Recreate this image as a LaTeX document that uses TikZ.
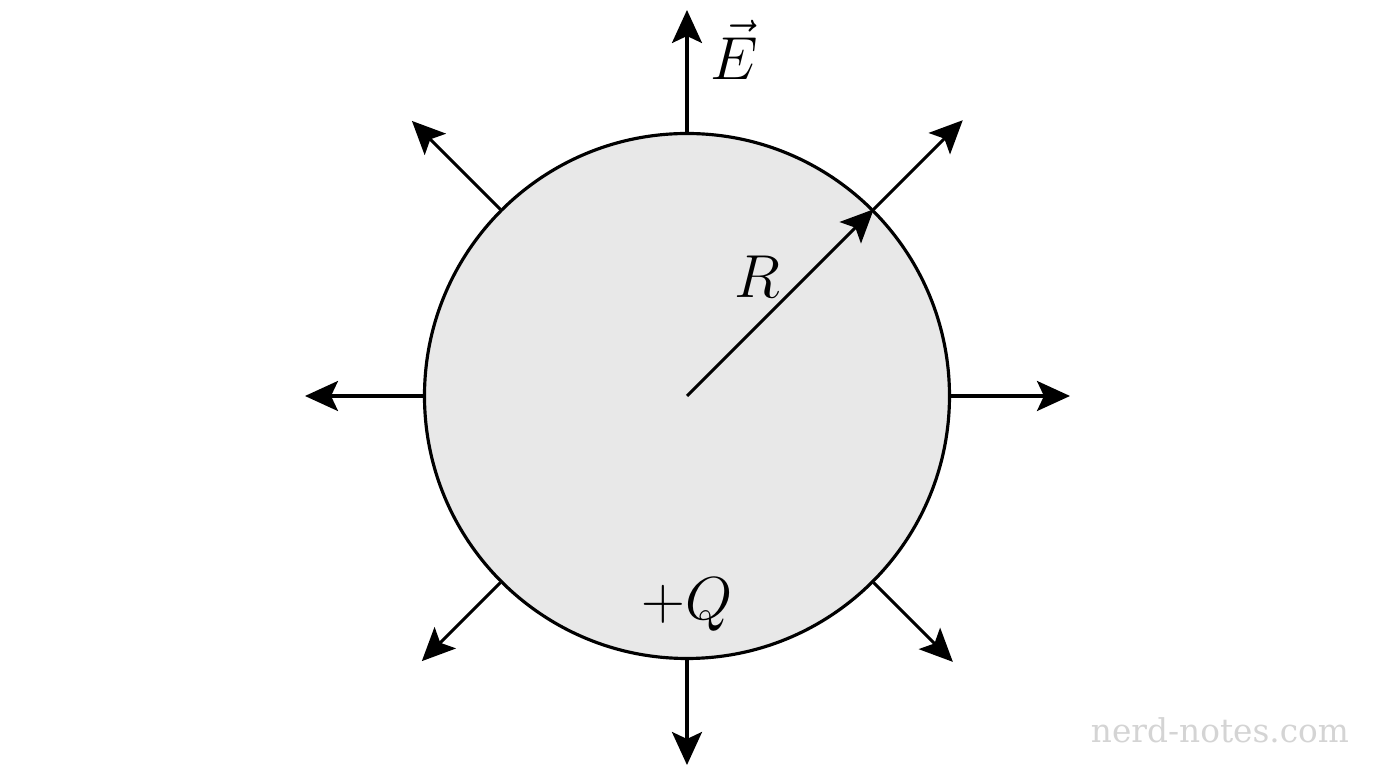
\documentclass[tikz,border=0pt]{standalone}
\usepackage{fontspec}
\newfontfamily\markfont{DejaVu Serif}
\usetikzlibrary{arrows.meta}
\tikzset{
  field/.style={line width=0.9pt,-{Stealth[length=3.3mm,width=3mm,inset=0.7mm]}},
  sphere/.style={circle,draw,line width=0.9pt,fill=black!9,minimum size=5.25cm,inner sep=0pt},
}
\begin{document}
\begin{tikzpicture}
\useasboundingbox (-6.87,-3.72) rectangle (6.89,3.96);
\LARGE
\node[sphere] (ball) at (0,0) {};
% field lines leaving the sphere
\foreach \ang/\len in {90/3.86,45/3.90,0/3.83,-45/3.76,-90/3.69,-135/3.75,180/3.82,135/3.89} {
  \coordinate (tip\ang) at (\ang:\len);
  \draw[field] (ball.\ang) -- (tip\ang);
}
\draw[field] (ball.center) -- (ball.45);
\node (Elabel) at (0.47,3.46) {$\vec{E}$};
\node (Rlabel) at (0.70,1.19) {$R$};
\node (Qlabel) at (0,-2.09) {$+Q$};
\node[text=black!17] (mark) at (5.33,-3.34) {\resizebox{2.58cm}{!}{\markfont nerd-notes.com}};
\end{tikzpicture}
\end{document}
